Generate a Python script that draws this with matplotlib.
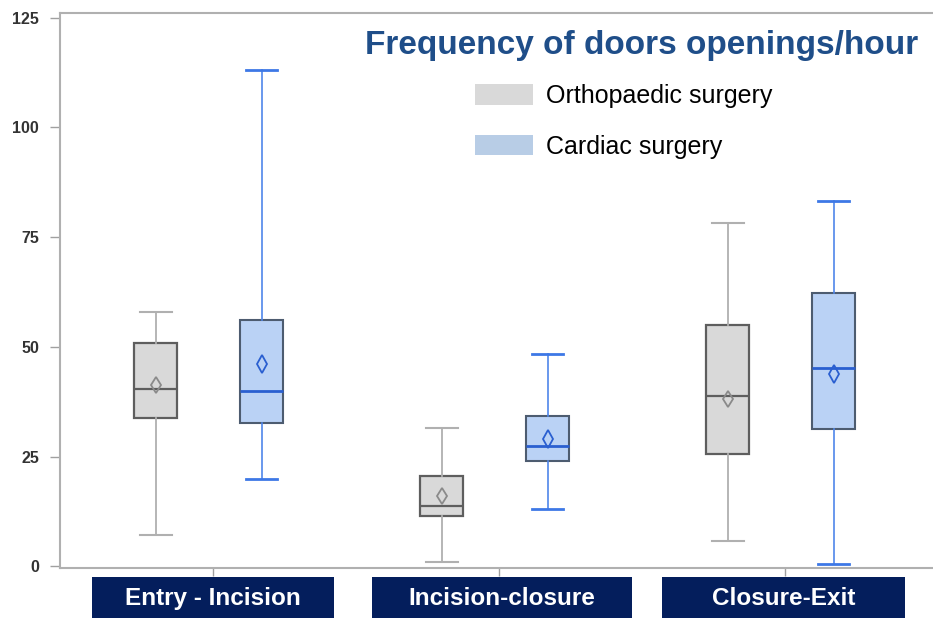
import matplotlib
matplotlib.use("Agg")
import matplotlib.pyplot as plt
from matplotlib.patches import Rectangle, Patch
from matplotlib.transforms import blended_transform_factory

# %% data
phases = ["Entry - Incision", "Incision-closure", "Closure-Exit"]
groups = ["Orthopaedic surgery", "Cardiac surgery"]

ortho_whislo = [7.1, 0.9, 5.7]
ortho_q1 = [33.7, 11.4, 25.5]
ortho_med = [40.3, 13.7, 38.7]
ortho_q3 = [50.8, 20.5, 54.9]
ortho_whishi = [58.0, 31.6, 78.3]
ortho_mean = [41.4, 15.9, 38.2]

card_whislo = [19.8, 13.0, 0.5]
card_q1 = [32.6, 23.9, 31.2]
card_med = [40.0, 27.3, 45.1]
card_q3 = [56.2, 34.2, 62.2]
card_whishi = [113.2, 48.3, 83.3]
card_mean = [46.2, 28.9, 43.7]

yticks = [0, 25, 50, 75, 100, 125]

plt.rcParams['font.family'] = ['Liberation Sans', 'DejaVu Sans']

fig = plt.figure(figsize=(9.33, 6.18), dpi=100)
ax = fig.add_axes([0.0643, 0.081, 0.961, 0.898])

def make_stats(lo, q1, med, q3, hi, mean):
    return [dict(whislo=a, q1=b, med=c, q3=d, whishi=e, mean=f, fliers=[])
            for a, b, c, d, e, f in zip(lo, q1, med, q3, hi, mean)]

pos = [1, 2, 3]
w = 0.15

ax.bxp(make_stats(ortho_whislo, ortho_q1, ortho_med, ortho_q3, ortho_whishi, ortho_mean),
       positions=[p - 0.2 for p in pos], widths=w, patch_artist=True, showmeans=True,
       boxprops=dict(facecolor='#d9d9d9', edgecolor='#5e5e5e', linewidth=1.6),
       medianprops=dict(color='#5e5e5e', linewidth=1.6),
       whiskerprops=dict(color='#b0b0b0', linewidth=1.3),
       capprops=dict(color='#b0b0b0', linewidth=1.5),
       meanprops=dict(marker='d', markerfacecolor='none', markeredgecolor='#8a8a8a',
                      markersize=8, markeredgewidth=1.3),
       capwidths=0.11)

ax.bxp(make_stats(card_whislo, card_q1, card_med, card_q3, card_whishi, card_mean),
       positions=[p + 0.17 for p in pos], widths=w, patch_artist=True, showmeans=True,
       boxprops=dict(facecolor='#bad2f5', edgecolor='#4d5c70', linewidth=1.5),
       medianprops=dict(color='#2a5fd0', linewidth=2),
       whiskerprops=dict(color='#4f86ea', linewidth=1.2),
       capprops=dict(color='#3d78e6', linewidth=2),
       meanprops=dict(marker='d', markerfacecolor='none', markeredgecolor='#2a5fd0',
                      markersize=9, markeredgewidth=1.3),
       capwidths=0.11)

ax.set_xlim(0.465, 3.6)
ax.set_ylim(-0.4, 126.1)
ax.set_yticks(yticks)
ax.set_yticklabels([str(t) for t in yticks], fontsize=11.5, color='#333333', fontweight='bold')
ax.set_xticks(pos)
ax.set_xticklabels([])
ax.tick_params(axis='y', length=7, width=1, color='#a0a0a0', pad=8)
ax.tick_params(axis='x', length=6, width=1, color='#a0a0a0')
for s in ax.spines.values():
    s.set_color('#b0b0b0')
    s.set_linewidth(1.5)

# category label boxes under the axis
trans = blended_transform_factory(ax.transData, fig.transFigure)
box_centers = [1.0, 2.01, 2.995]
box_widths = [0.846, 0.91, 0.85]
for c, bw, name in zip(box_centers, box_widths, phases):
    ax.add_patch(Rectangle((c - bw / 2, 0.0), bw, 0.066, transform=trans,
                           facecolor='#041e5c', edgecolor='none', clip_on=False))
    ax.text(c, 0.031, name, transform=trans, ha='center', va='center',
            color='white', fontsize=17.5, fontweight='bold')

fig.text(0.984, 0.926, "Frequency of doors openings/hour", ha='right', va='center',
         fontsize=24, fontweight='bold', color='#1f4e89')

handles = [Patch(facecolor='#d9d9d9', edgecolor='none'),
           Patch(facecolor='#b8cde6', edgecolor='none')]
ax.legend(handles, groups, loc='upper left', bbox_to_anchor=(0.485, 0.9),
          bbox_transform=fig.transFigure, frameon=False, fontsize=18,
          handlelength=2.3, handleheight=0.9, labelspacing=1.05, handletextpad=0.55)

fig.savefig("out.png", dpi=100)
